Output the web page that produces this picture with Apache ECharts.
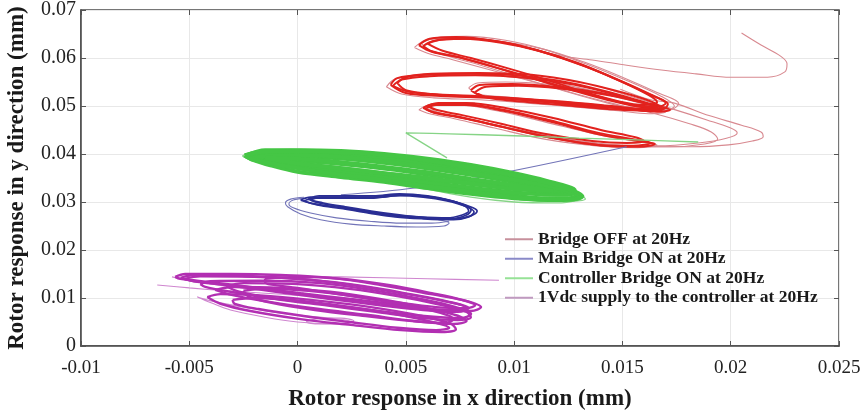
<!DOCTYPE html>
<html>
<head>
<meta charset="utf-8">
<script src="https://cdn.jsdelivr.net/npm/echarts@6/dist/echarts.min.js"></script>
<style>
html,body{margin:0;padding:0;background:#fff;}
#chart{width:867px;height:411px;}
</style>
</head>
<body>
<div id="chart"></div>
<script>
// Legend names
const seriesNames = [
  'Bridge OFF at 20Hz',
  'Main Bridge ON at 20Hz',
  'Controller Bridge ON at 20Hz',
  '1Vdc supply to the controller at 20Hz'
];

// Axis ticks
const xTicks = [-0.01, -0.005, 0, 0.005, 0.01, 0.015, 0.02, 0.025];
const yTicks = [0, 0.01, 0.02, 0.03, 0.04, 0.05, 0.06, 0.07];

// Bridge OFF orbit (x, y in mm) - dense loops
const bridgeOffCore = [
  [[0.0056,0.0627],[0.0061,0.0640],[0.0073,0.0644],[0.0092,0.0635],[0.0110,0.0617],[0.0129,0.0590],[0.0147,0.0556],[0.0163,0.0523],[0.0171,0.0504],[0.0169,0.0494],[0.0161,0.0496],[0.0147,0.0510],[0.0131,0.0529],[0.0113,0.0552],[0.0094,0.0577],[0.0076,0.0600],[0.0062,0.0613],[0.0056,0.0627]],
  [[0.0060,0.0630],[0.0066,0.0638],[0.0080,0.0640],[0.0098,0.0630],[0.0115,0.0610],[0.0133,0.0582],[0.0150,0.0550],[0.0162,0.0523],[0.0166,0.0508],[0.0160,0.0502],[0.0148,0.0510],[0.0132,0.0530],[0.0114,0.0556],[0.0096,0.0580],[0.0080,0.0600],[0.0067,0.0615],[0.0060,0.0630]],
  [[0.0058,0.0625],[0.0063,0.0636],[0.0076,0.0640],[0.0094,0.0632],[0.0112,0.0614],[0.0131,0.0586],[0.0149,0.0553],[0.0164,0.0522],[0.0170,0.0506],[0.0166,0.0498],[0.0156,0.0500],[0.0142,0.0514],[0.0126,0.0534],[0.0108,0.0558],[0.0090,0.0582],[0.0074,0.0602],[0.0062,0.0614],[0.0058,0.0625]],
  [[0.0043,0.0544],[0.0046,0.0558],[0.0059,0.0565],[0.0080,0.0567],[0.0103,0.0563],[0.0126,0.0548],[0.0147,0.0525],[0.0163,0.0504],[0.0172,0.0492],[0.0166,0.0488],[0.0152,0.0494],[0.0133,0.0502],[0.0112,0.0510],[0.0089,0.0517],[0.0066,0.0521],[0.0050,0.0527],[0.0043,0.0544]],
  [[0.0046,0.0548],[0.0050,0.0560],[0.0062,0.0567],[0.0084,0.0569],[0.0108,0.0565],[0.0130,0.0550],[0.0150,0.0528],[0.0164,0.0508],[0.0168,0.0496],[0.0160,0.0494],[0.0145,0.0500],[0.0126,0.0508],[0.0104,0.0515],[0.0082,0.0521],[0.0062,0.0525],[0.0050,0.0533],[0.0046,0.0548]],
  [[0.0044,0.0542],[0.0048,0.0555],[0.0061,0.0562],[0.0082,0.0564],[0.0105,0.0559],[0.0128,0.0544],[0.0148,0.0522],[0.0162,0.0504],[0.0169,0.0494],[0.0163,0.0490],[0.0150,0.0496],[0.0130,0.0505],[0.0108,0.0513],[0.0086,0.0519],[0.0065,0.0523],[0.0051,0.0530],[0.0044,0.0542]],
  [[0.0080,0.0533],[0.0084,0.0544],[0.0099,0.0546],[0.0119,0.0540],[0.0140,0.0527],[0.0157,0.0510],[0.0164,0.0500],[0.0158,0.0494],[0.0140,0.0498],[0.0119,0.0506],[0.0099,0.0515],[0.0085,0.0521],[0.0080,0.0533]],
  [[0.0082,0.0529],[0.0087,0.0540],[0.0102,0.0542],[0.0122,0.0536],[0.0143,0.0523],[0.0160,0.0506],[0.0166,0.0496],[0.0160,0.0490],[0.0143,0.0494],[0.0122,0.0502],[0.0102,0.0510],[0.0088,0.0517],[0.0082,0.0529]],
  [[0.0058,0.0496],[0.0063,0.0504],[0.0076,0.0504],[0.0093,0.0494],[0.0116,0.0471],[0.0139,0.0444],[0.0155,0.0431],[0.0163,0.0423],[0.0155,0.0417],[0.0139,0.0419],[0.0116,0.0435],[0.0093,0.0458],[0.0075,0.0477],[0.0062,0.0488],[0.0058,0.0496]],
  [[0.0060,0.0500],[0.0065,0.0506],[0.0078,0.0506],[0.0096,0.0496],[0.0118,0.0475],[0.0140,0.0450],[0.0156,0.0435],[0.0160,0.0427],[0.0152,0.0423],[0.0136,0.0427],[0.0114,0.0442],[0.0094,0.0463],[0.0076,0.0481],[0.0064,0.0492],[0.0060,0.0500]],
  [[0.0059,0.0494],[0.0064,0.0502],[0.0077,0.0502],[0.0095,0.0490],[0.0117,0.0467],[0.0140,0.0440],[0.0157,0.0427],[0.0165,0.0421],[0.0158,0.0415],[0.0142,0.0417],[0.0118,0.0433],[0.0095,0.0456],[0.0076,0.0475],[0.0063,0.0486],[0.0059,0.0494]]
];

// Bridge OFF orbit - outer and transient passes
const bridgeOffOuter = [
  [[0.0054,0.0622],[0.0059,0.0637],[0.0072,0.0642],[0.0090,0.0637],[0.0112,0.0620],[0.0132,0.0592],[0.0150,0.0560],[0.0166,0.0528],[0.0176,0.0505],[0.0172,0.0492],[0.0160,0.0492],[0.0145,0.0506],[0.0128,0.0526],[0.0110,0.0549],[0.0090,0.0574],[0.0072,0.0596],[0.0060,0.0610],[0.0054,0.0622]],
  [[0.0057,0.0632],[0.0064,0.0642],[0.0078,0.0645],[0.0096,0.0637],[0.0114,0.0618],[0.0133,0.0588],[0.0152,0.0553],[0.0168,0.0520],[0.0174,0.0500],[0.0168,0.0490],[0.0155,0.0494],[0.0140,0.0510],[0.0122,0.0533],[0.0104,0.0558],[0.0086,0.0583],[0.0070,0.0603],[0.0060,0.0618],[0.0057,0.0632]],
  [[0.0041,0.0540],[0.0045,0.0556],[0.0058,0.0563],[0.0078,0.0565],[0.0100,0.0560],[0.0124,0.0544],[0.0146,0.0520],[0.0163,0.0500],[0.0170,0.0488],[0.0162,0.0484],[0.0148,0.0490],[0.0128,0.0498],[0.0106,0.0506],[0.0084,0.0513],[0.0063,0.0517],[0.0048,0.0525],[0.0041,0.0540]],
  [[0.0079,0.0538],[0.0083,0.0548],[0.0096,0.0550],[0.0116,0.0545],[0.0137,0.0531],[0.0154,0.0514],[0.0162,0.0503],[0.0155,0.0498],[0.0138,0.0502],[0.0117,0.0510],[0.0096,0.0519],[0.0083,0.0525],[0.0079,0.0538]],
  [[0.0056,0.0492],[0.0061,0.0502],[0.0074,0.0502],[0.0092,0.0490],[0.0114,0.0467],[0.0137,0.0442],[0.0156,0.0427],[0.0166,0.0419],[0.0157,0.0413],[0.0138,0.0417],[0.0114,0.0431],[0.0091,0.0454],[0.0073,0.0473],[0.0060,0.0485],[0.0056,0.0492]],
  [[0.0149,0.0535],[0.0163,0.0513],[0.0174,0.0506],[0.0190,0.0480],[0.0205,0.0460],[0.0214,0.0446],[0.0215,0.0436],[0.0210,0.0427],[0.0199,0.0419],[0.0182,0.0415],[0.0163,0.0415],[0.0144,0.0419],[0.0126,0.0429],[0.0107,0.0446],[0.0089,0.0463],[0.0073,0.0477],[0.0062,0.0488],[0.0059,0.0496],[0.0066,0.0504],[0.0082,0.0506]],
  [[0.0140,0.0540],[0.0156,0.0517],[0.0173,0.0494],[0.0189,0.0471],[0.0200,0.0454],[0.0203,0.0444],[0.0198,0.0433],[0.0185,0.0423],[0.0166,0.0417],[0.0145,0.0419],[0.0124,0.0431],[0.0104,0.0448],[0.0085,0.0467],[0.0068,0.0483],[0.0060,0.0494]],
  [[0.0150,0.0500],[0.0166,0.0483],[0.0181,0.0463],[0.0191,0.0446],[0.0194,0.0431],[0.0188,0.0421],[0.0172,0.0415],[0.0152,0.0417],[0.0130,0.0427],[0.0110,0.0442]],
  [[0.0205,0.0652],[0.0214,0.0627],[0.0223,0.0604],[0.0226,0.0588],[0.0225,0.0571],[0.0217,0.0560],[0.0200,0.0560],[0.0184,0.0567],[0.0168,0.0575],[0.0152,0.0585],[0.0136,0.0596],[0.0122,0.0604],[0.0110,0.0617],[0.0092,0.0635],[0.0073,0.0644],[0.0061,0.0640],[0.0056,0.0627]]
];

// Main Bridge ON orbit
const mainBridgeCore = [
  [[0.00014,0.0304],[0.00060,0.0310],[0.00200,0.0310],[0.00324,0.0310],[0.00444,0.0315],[0.00569,0.0313],[0.00676,0.0306],[0.00770,0.0294],[0.00801,0.0283],[0.00780,0.0273],[0.00708,0.0265],[0.00570,0.0267],[0.00444,0.0271],[0.00324,0.0279],[0.00200,0.0288],[0.00080,0.0296],[0.00014,0.0304]],
  [[0.00028,0.0302],[0.00080,0.0308],[0.00213,0.0308],[0.00340,0.0308],[0.00460,0.0313],[0.00580,0.0310],[0.00690,0.0302],[0.00780,0.0290],[0.00815,0.0279],[0.00790,0.0269],[0.00720,0.0263],[0.00580,0.0265],[0.00450,0.0269],[0.00330,0.0277],[0.00210,0.0286],[0.00090,0.0294],[0.00028,0.0302]],
  [[0.00050,0.0306],[0.00100,0.0313],[0.00230,0.0313],[0.00350,0.0313],[0.00470,0.0317],[0.00600,0.0313],[0.00700,0.0304],[0.00770,0.0292],[0.00790,0.0281],[0.00760,0.0273],[0.00690,0.0267],[0.00560,0.0269],[0.00440,0.0273],[0.00320,0.0281],[0.00200,0.0290],[0.00100,0.0298],[0.00050,0.0306]],
  [[0.00060,0.0304],[0.00110,0.0310],[0.00250,0.0310],[0.00380,0.0310],[0.00500,0.0315],[0.00620,0.0310],[0.00730,0.0300],[0.00810,0.0288],[0.00829,0.0281],[0.00800,0.0271],[0.00730,0.0265],[0.00600,0.0267],[0.00470,0.0273],[0.00340,0.0281],[0.00220,0.0290],[0.00120,0.0298],[0.00060,0.0304]]
];

const mainBridgeOuter = [
  [[0.00030,0.0310],[-0.00032,0.0306],[-0.00056,0.0298],[-0.00046,0.0290],[0.00014,0.0275],[0.00106,0.0263],[0.00245,0.0254],[0.00400,0.0250],[0.00550,0.0248],[0.00676,0.0250],[0.00700,0.0256],[0.00650,0.0263]],
  [[0.00040,0.0308],[-0.00020,0.0304],[-0.00040,0.0296],[-0.00020,0.0288],[0.00060,0.0277],[0.00180,0.0267],[0.00330,0.0260],[0.00480,0.0256],[0.00620,0.0256],[0.00700,0.0260]],
  [[0.0020,0.0315],[0.0054,0.0329],[0.0095,0.0361],[0.0152,0.0415]]
];

// Controller Bridge ON orbit
const controllerCore = [
  [[-0.00236,0.0394],[-0.00180,0.0402],[-0.00032,0.0404],[0.00153,0.0402],[0.00338,0.0398],[0.00523,0.0388],[0.00708,0.0375],[0.00894,0.0360],[0.01079,0.0344],[0.01218,0.0327],[0.01301,0.0313],[0.01250,0.0308],[0.01125,0.0308],[0.00940,0.0317],[0.00755,0.0327],[0.00569,0.0338],[0.00384,0.0350],[0.00199,0.0360],[0.00014,0.0373],[-0.00125,0.0383],[-0.00200,0.0390],[-0.00236,0.0394]],
  [[-0.00208,0.0394],[-0.00150,0.0400],[-0.00032,0.0400],[0.00153,0.0398],[0.00338,0.0392],[0.00523,0.0383],[0.00708,0.0369],[0.00894,0.0354],[0.01079,0.0340],[0.01200,0.0327],[0.01273,0.0317],[0.01200,0.0315],[0.01079,0.0317],[0.00894,0.0325],[0.00708,0.0335],[0.00523,0.0346],[0.00338,0.0356],[0.00153,0.0367],[-0.00032,0.0377],[-0.00150,0.0388],[-0.00208,0.0394]],
  [[-0.00180,0.0394],[-0.00032,0.0396],[0.00153,0.0392],[0.00338,0.0385],[0.00523,0.0375],[0.00708,0.0363],[0.00894,0.0350],[0.01079,0.0335],[0.01230,0.0321],[0.01120,0.0323],[0.00894,0.0333],[0.00708,0.0342],[0.00523,0.0352],[0.00338,0.0363],[0.00153,0.0373],[-0.00032,0.0383],[-0.00180,0.0394]],
  [[-0.00230,0.0398],[-0.00150,0.0408],[0.00014,0.0408],[0.00200,0.0406],[0.00400,0.0400],[0.00600,0.0390],[0.00800,0.0377],[0.01000,0.0360],[0.01150,0.0344],[0.01280,0.0325],[0.01220,0.0323],[0.01050,0.0331],[0.00850,0.0342],[0.00650,0.0354],[0.00450,0.0367],[0.00250,0.0377],[0.00050,0.0385],[-0.00130,0.0392],[-0.00230,0.0398]],
  [[-0.00220,0.0390],[-0.00150,0.0396],[0.00014,0.0398],[0.00200,0.0394],[0.00400,0.0385],[0.00600,0.0373],[0.00800,0.0360],[0.01000,0.0346],[0.01180,0.0331],[0.01300,0.0310],[0.01200,0.0304],[0.01000,0.0308],[0.00800,0.0317],[0.00600,0.0329],[0.00400,0.0342],[0.00200,0.0352],[0.00000,0.0363],[-0.00130,0.0377],[-0.00220,0.0390]],
  [[-0.00245,0.0397],[-0.00170,0.0404],[0.00000,0.0406],[0.00180,0.0404],[0.00360,0.0400],[0.00550,0.0390],[0.00740,0.0377],[0.00930,0.0362],[0.01100,0.0346],[0.01240,0.0329],[0.01315,0.0312],[0.01260,0.0305],[0.01100,0.0306],[0.00920,0.0313],[0.00740,0.0325],[0.00560,0.0335],[0.00380,0.0347],[0.00200,0.0357],[0.00020,0.0369],[-0.00130,0.0381],[-0.00210,0.0389],[-0.00245,0.0397]],
  [[-0.00150,0.0392],[0.00000,0.0390],[0.00200,0.0383],[0.00400,0.0373],[0.00600,0.0362],[0.00800,0.0348],[0.01000,0.0335],[0.01180,0.0323],[0.01000,0.0327],[0.00800,0.0338],[0.00600,0.0350],[0.00400,0.0360],[0.00200,0.0370],[0.00000,0.0380],[-0.00150,0.0392]]
];

const controllerOuter = [
  [[-0.00255,0.0396],[-0.00194,0.0406],[-0.00032,0.0410],[0.00153,0.0408],[0.00338,0.0404],[0.00523,0.0394],[0.00708,0.0381],[0.00894,0.0367],[0.01079,0.0350],[0.01218,0.0331],[0.01310,0.0315],[0.01329,0.0306],[0.01264,0.0302],[0.01125,0.0302],[0.00940,0.0310],[0.00755,0.0321],[0.00569,0.0331],[0.00384,0.0344],[0.00199,0.0354],[0.00014,0.0367],[-0.00125,0.0379],[-0.00218,0.0388],[-0.00255,0.0396]],
  [[-0.00240,0.0392],[-0.00150,0.0381],[0.00050,0.0367],[0.00300,0.0350],[0.00550,0.0331],[0.00800,0.0310],[0.01000,0.0300],[0.01200,0.0298],[0.01300,0.0304]],
  [[0.0185,0.0425],[0.0160,0.0429],[0.0130,0.0433],[0.0100,0.0438],[0.0070,0.0442],[0.0050,0.0444],[0.0069,0.0392]]
];

// 1Vdc supply orbit
const supplyCore = [
  [[-0.00565,0.0144],[-0.00519,0.0150],[-0.00310,0.0150],[-0.00079,0.0148],[0.00153,0.0142],[0.00384,0.0127],[0.00616,0.0108],[0.00778,0.0094],[0.00847,0.0081],[0.00801,0.0073],[0.00662,0.0075],[0.00477,0.0085],[0.00245,0.0098],[0.00014,0.0110],[-0.00218,0.0123],[-0.00403,0.0133],[-0.00542,0.0140],[-0.00565,0.0144]],
  [[-0.00449,0.0129],[-0.00403,0.0135],[-0.00171,0.0136],[0.00106,0.0131],[0.00338,0.0117],[0.00569,0.0098],[0.00731,0.0081],[0.00801,0.0067],[0.00755,0.0058],[0.00569,0.0063],[0.00338,0.0075],[0.00106,0.0088],[-0.00125,0.0100],[-0.00310,0.0113],[-0.00426,0.0123],[-0.00449,0.0129]],
  [[-0.00417,0.0102],[-0.00356,0.0108],[-0.00125,0.0104],[0.00106,0.0094],[0.00338,0.0081],[0.00569,0.0063],[0.00708,0.0046],[0.00731,0.0035],[0.00662,0.0029],[0.00477,0.0033],[0.00245,0.0044],[0.00014,0.0056],[-0.00218,0.0073],[-0.00356,0.0088],[-0.00417,0.0102]],
  [[-0.00519,0.0140],[-0.00450,0.0145],[-0.00200,0.0144],[0.00050,0.0138],[0.00300,0.0125],[0.00520,0.0108],[0.00700,0.0092],[0.00790,0.0079],[0.00740,0.0071],[0.00580,0.0075],[0.00380,0.0085],[0.00150,0.0098],[-0.00100,0.0113],[-0.00330,0.0127],[-0.00480,0.0135],[-0.00519,0.0140]],
  [[-0.00380,0.0117],[-0.00300,0.0123],[-0.00080,0.0121],[0.00150,0.0113],[0.00380,0.0098],[0.00600,0.0079],[0.00740,0.0063],[0.00780,0.0052],[0.00720,0.0046],[0.00540,0.0052],[0.00320,0.0065],[0.00100,0.0077],[-0.00130,0.0092],[-0.00300,0.0106],[-0.00380,0.0117]],
  [[-0.00150,0.0140],[0.00000,0.0144],[0.00200,0.0140],[0.00420,0.0127],[0.00620,0.0110],[0.00760,0.0096],[0.00820,0.0085],[0.00780,0.0079],[0.00640,0.0081],[0.00440,0.0092],[0.00220,0.0106],[0.00000,0.0121],[-0.00150,0.0133],[-0.00150,0.0140]],
  [[-0.00250,0.0115],[-0.00150,0.0119],[0.00050,0.0115],[0.00280,0.0102],[0.00500,0.0085],[0.00660,0.0069],[0.00720,0.0056],[0.00680,0.0048],[0.00530,0.0052],[0.00300,0.0063],[0.00080,0.0075],[-0.00120,0.0090],[-0.00230,0.0104],[-0.00250,0.0115]],
  [[-0.00540,0.0142],[-0.00480,0.0148],[-0.00250,0.0146],[0.00000,0.0140],[0.00250,0.0127],[0.00480,0.0110],[0.00670,0.0094],[0.00770,0.0081],[0.00720,0.0075],[0.00560,0.0079],[0.00350,0.0090],[0.00120,0.0102],[-0.00120,0.0117],[-0.00360,0.0129],[-0.00500,0.0137],[-0.00540,0.0142]],
  [[-0.00330,0.0125],[-0.00250,0.0131],[0.00000,0.0129],[0.00240,0.0119],[0.00460,0.0104],[0.00660,0.0086],[0.00780,0.0071],[0.00800,0.0060],[0.00740,0.0054],[0.00580,0.0058],[0.00360,0.0071],[0.00140,0.0084],[-0.00100,0.0098],[-0.00270,0.0113],[-0.00330,0.0125]],
  [[-0.00300,0.0096],[-0.00200,0.0100],[0.00020,0.0094],[0.00250,0.0081],[0.00470,0.0065],[0.00640,0.0048],[0.00700,0.0038],[0.00640,0.0033],[0.00460,0.0038],[0.00240,0.0050],[0.00020,0.0063],[-0.00180,0.0077],[-0.00290,0.0088],[-0.00300,0.0096]]
];

const supplyOuter = [
  [[-0.00463,0.0102],[-0.00400,0.0090],[-0.00310,0.0075],[-0.00150,0.0060],[0.00000,0.0050],[0.00180,0.0046],[0.00240,0.0052],[0.00150,0.0058],[-0.00050,0.0067],[-0.00250,0.0081],[-0.00400,0.0094],[-0.00463,0.0102]],
  [[0.0010,0.0058],[0.0020,0.0058],[0.0026,0.0052],[0.0022,0.0046],[0.0010,0.0046],[0.0004,0.0050],[0.0010,0.0058]],
  [[-0.00648,0.0127],[-0.00500,0.0121],[-0.00330,0.0115],[-0.00150,0.0110],[0.00050,0.0104]],
  [[-0.00580,0.0144],[-0.00450,0.0133],[-0.00300,0.0123],[-0.00100,0.0115]],
  [[-0.0015,0.0146],[0.0020,0.0144],[0.0060,0.0140],[0.0093,0.0137]]
];

// Colours: dense core strokes and lighter outer strokes per condition
const coreColors = ['#e2221e', '#2a2e94', '#45c645', '#b22fb2'];
const outerColors = ['#d88990', '#7274b8', '#86d486', '#cf86cf'];
const legendColors = ['#c7909c', '#8a8ac8', '#96e296', '#c09ac0'];

const groups = [
  [bridgeOffCore, bridgeOffOuter, 2.0, 1.1],
  [mainBridgeCore, mainBridgeOuter, 1.7, 1.1],
  [controllerCore, controllerOuter, 4.0, 1.3],
  [supplyCore, supplyOuter, 2.4, 1.1]
];

const series = [];
groups.forEach(function (g, i) {
  const make = function (loop, color, width) {
    return {
      name: seriesNames[i], type: 'line', data: loop, smooth: 0.35,
      showSymbol: false, symbol: 'none', silent: true,
      lineStyle: { color: color, width: width },
      itemStyle: { color: legendColors[i] }
    };
  };
  g[1].forEach(function (loop) { series.push(make(loop, outerColors[i], g[3])); });
  g[0].forEach(function (loop) { series.push(make(loop, coreColors[i], g[2])); });
});

const serif = '"Liberation Serif", "Times New Roman", serif';
const fmt = function (v) { return String(+v.toFixed(4)); };

const chart = echarts.init(document.getElementById('chart'), null, { renderer: 'canvas' });
chart.setOption({
  animation: false,
  backgroundColor: '#ffffff',
  grid: {
    left: 81, right: 28, top: 10, bottom: 65, containLabel: false, outerBoundsMode: 'none',
    show: true, borderColor: '#4a4a4a', borderWidth: 1.5
  },
  legend: {
    orient: 'vertical', left: 500, top: 225, itemGap: 1,
    itemWidth: 28, itemHeight: 2, icon: 'rect',
    textStyle: { fontFamily: serif, fontWeight: 'bold', fontSize: 17.5, lineHeight: 18.5, color: '#1a1a1a' },
    data: seriesNames.map(function (n, i) { return { name: n, itemStyle: { color: legendColors[i] } }; })
  },
  xAxis: [{
    type: 'value', min: xTicks[0], max: xTicks[xTicks.length - 1], interval: 0.005,
    name: 'Rotor response in x direction (mm)', nameLocation: 'middle', nameGap: 42,
    nameTextStyle: { fontFamily: serif, fontWeight: 'bold', fontSize: 23, color: '#1a1a1a' },
    axisLine: { show: true, onZero: false, lineStyle: { color: '#4a4a4a', width: 1.5 } },
    axisTick: { inside: true, length: 5, lineStyle: { color: '#555' } },
    axisLabel: { fontFamily: serif, fontSize: 19, color: '#222', margin: 13, formatter: fmt },
    splitLine: { show: true, lineStyle: { color: '#e8e8e8', width: 1 } }
  }, {
    type: 'value', position: 'top', min: xTicks[0], max: xTicks[xTicks.length - 1], interval: 0.005,
    axisLine: { show: false, onZero: false }, axisTick: { inside: true, length: 5, lineStyle: { color: '#555' } },
    axisLabel: { show: false }, splitLine: { show: false }
  }],
  yAxis: [{
    type: 'value', min: yTicks[0], max: yTicks[yTicks.length - 1], interval: 0.01,
    name: 'Rotor response in y direction (mm)', nameLocation: 'middle', nameGap: 52,
    nameTextStyle: { fontFamily: serif, fontWeight: 'bold', fontSize: 23, color: '#1a1a1a' },
    axisLine: { show: true, onZero: false, lineStyle: { color: '#4a4a4a', width: 1.5 } },
    axisTick: { inside: true, length: 5, lineStyle: { color: '#555' } },
    axisLabel: { fontFamily: serif, fontSize: 20, color: '#222', margin: 5, formatter: fmt },
    splitLine: { show: true, lineStyle: { color: '#e8e8e8', width: 1 } }
  }, {
    type: 'value', position: 'right', min: yTicks[0], max: yTicks[yTicks.length - 1], interval: 0.01,
    axisLine: { show: false, onZero: false }, axisTick: { inside: true, length: 5, lineStyle: { color: '#555' } },
    axisLabel: { show: false }, splitLine: { show: false }
  }],
  series: series
});
</script>
</body>
</html>
